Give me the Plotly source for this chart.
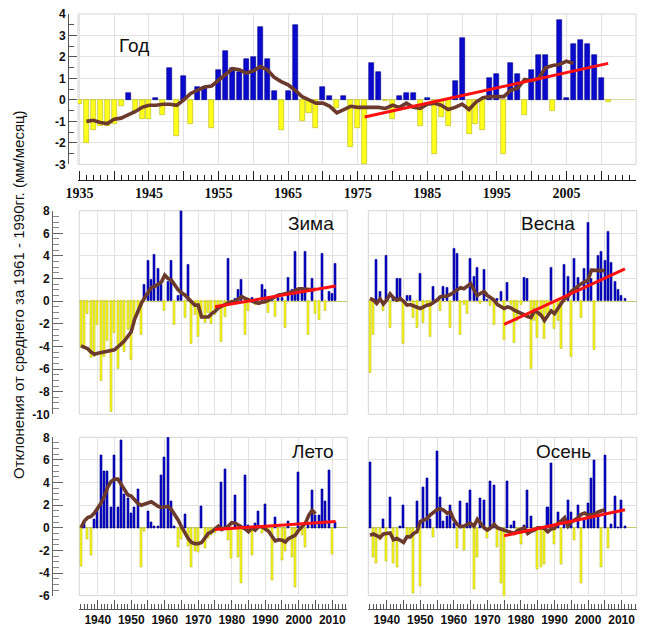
import plotly.graph_objects as go

# ---------------- data ----------------
years = list(range(1935, 2012))

annual = [-0.2, -2.0, -1.4, -1.2, -1.2, -1.1, -0.3, 0.3, -0.5, -0.9,
          -0.9, 0.1, -0.7, 1.5, -1.7, 1.1, -1.1, 0.6, 0.6, -1.3,
          1.4, 2.3, 1.5, 1.3, 1.9, 2.0, 3.4, 1.9, 0.4, -1.4,
          0.4, 3.5, -1.0, -0.6, -1.3, 0.6, 0.2, -0.4, 0.2, -2.2,
          -1.3, -3.0, 1.7, 1.3, -0.05, -0.9, 0.2, 0.3, 0.3, -1.2,
          0.1, -2.5, -0.8, -1.2, 0.9, 2.9, -1.6, -1.1, -1.4, 1.0,
          1.2, -2.5, 1.7, 1.2, -0.7, 1.4, 2.1, 2.1, -0.5, 3.7,
          0.1, 2.6, 2.8, 2.6, 2.1, 1.0, -0.1]

winter = [-4.05, -4.2, -1.1, -5.0, -4.9, -2.1, -7.0, -4.9, -3.5, -9.8,
          -2.8, -6.0, -4.0, -4.5, -2.5, -5.2, -2.0, -1.1, -3.0,
          1.5, 3.6, 1.9, 4.1, 2.9, 1.5, -0.85, 1.7, 3.6, -2.1, 0.5, 8.5, -1.5, 3.2, -3.75,
          -1.2, -3.1, -1.5, -1.9, -1.0,
          -2.0, -1.2, -0.5,
          -3.6, -1.4, 3.8, -0.3, 0.2, 1.0, 1.9, -3.0, -0.8, 0.3,
          -0.3, 0.1, 1.5, 1.0, -1.0, 0.2, -1.4, 0.3, 0.3, -2.3,
          2.1, 1.0, 4.4, 1.0, 1.1, 4.4, -3.0, 2.0, -1.1, -1.6,
          4.2, -0.8, 0.8, 0.7, 3.3]

spring = [-6.3, -3.0, 3.7, 0.8, -0.8, 4.0, -2.3, 0.3, 2.0, 2.0,
          -3.8, 0.45, 0.45, -1.5, -2.3, 2.45, -1.9, -0.3, -3.1, 1.3,
          0.1, -0.8, 1.3, 1.2, -2.3, 4.6, 4.2, -3.0, -0.3, -1.1,
          3.8, 2.2, 3.0, -0.2, 2.8, 0.1, -0.4, -2.1, 0.2, 0.8,
          -3.4, 1.6, -0.3, -3.7, -1.7, -0.3, 2.1, 2.0, -6.0, -1.7,
          -3.2, -1.2, -3.3, -1.1, 3.0, -2.4, -1.7, -4.2, 3.2, 2.2,
          -4.9,
          3.8, 2.1, -1.5, 2.9, 6.9, 2.0, -4.3, 4.0, 4.4, 3.6, 6.1, 3.4, 1.7, 1.0, 0.5, 0.25]

summer = [-3.4, 0.45, -1.0, -2.4, 0.75, 1.6, 6.4, 5.0, 5.0, 1.8,
          6.4, 1.8, 7.7, 3.0, 2.65, 1.3, 1.8, 3.4, -3.5, -0.3,
          1.5, 0.45, 0.15, 0.1, 4.6, 6.2, 8.0, 2.3, 0.1, -1.7,
          -1.0, 1.2, -1.6, -3.5, -2.1, -2.2, 1.9,
          -1.8, -0.95, -0.65, -0.5, 0.1, 4.0, 5.2, -1.1, -2.7, 2.9,
          -2.6, -4.9, 4.6, 0.2, -2.4, 0.4, 1.5, -0.5, 2.1, -0.35,
          -4.6, 0.9, -0.8, -2.9, -2.1, 0.6, -2.6, -5.3, 4.9, -0.65,
          -1.7, 0.4, 3.3, 1.1, 1.1, 3.4, 2.3, 5.1, -2.3, 0.45]

autumn = [5.8, -2.6, -3.1, -1.1, 0.75, -3.0, 2.7, -3.1, -3.5, 0.1,
          2.0, -0.65, -0.8, -5.75, 2.3, -5.2, 3.6, 4.4, 0.75, -0.8,
          6.8, 2.7, 0.55, 1.0, 2.0, 0.4, -1.8, 2.3, -2.0, 2.15,
          3.3, -5.4, -2.6, 2.6, 2.45, -0.95, 4.1, 3.8, -1.7, -4.9,
          -6.8, 4.1, 0.25, 0.55, -0.5, -1.5, 0.2, 3.3, 1.0, -0.35,
          -3.7, -3.5, -3.2, 1.8, 5.7, -1.5, 1.4, -3.2, 0.85, 2.45,
          1.4, -1.1, 2.0, -4.9, 0.75, 2.15, 4.4, 6.0, 1.0, -3.5,
          6.4, -1.8, 0.3, 2.8, 0.05, 2.4, 0.1]

# moving averages (brown lines)
ma_annual_start = 1936
ma_annual = [-1.0, -0.95, -1.05, -1.1, -0.9, -0.85, -0.7, -0.55, -0.35, -0.25,
             -0.25, -0.2, -0.2, -0.25, 0.0, 0.3, 0.45, 0.6, 0.65, 0.9,
             1.15, 1.45, 1.4, 1.25, 1.35, 1.55, 1.4, 1.05, 0.85, 0.7,
             0.45, 0.15, 0.0, -0.15, -0.15, -0.3, -0.6, -0.45, -0.3, -0.35,
             -0.35, -0.35, -0.35, -0.4, -0.25, -0.35, -0.15, -0.35, -0.4, -0.2,
             -0.15, -0.25, -0.45, -0.35, -0.2, -0.45, -0.1, 0.1, 0.15, 0.15,
             0.15, 0.45, 0.55, 0.95, 0.9, 1.0, 1.5, 1.6, 1.65, 1.8, 1.7]

ma_season_start = 1935
ma_winter = [-3.95, -4.1, -4.2, -4.5, -4.7, -4.6, -4.55, -4.5, -4.45, -4.4,
             -4.3, -4.05, -3.8, -3.5, -3.1, -2.7, -1.6, -0.8, -0.2, 0.3,
             0.8, 1.2, 1.3, 1.5, 1.7, 2.3, 2.0, 1.85, 1.4, 1.0,
             0.75, 0.55, 0.25, 0.0, -0.35, -0.35, -1.4, -1.4, -1.4, -1.1,
             -0.9, -0.6, -0.45, -0.25, -0.15, -0.05, 0.0, 0.2, 0.4, 0.25,
             0.1, 0.0, -0.1, -0.2, -0.1, -0.05, 0.1, 0.25, 0.4, 0.55,
             0.6, 0.7, 0.75, 0.8, 0.95, 1.1, 1.1, 1.05, 1.0, 1.0, 1.05]

ma_spring = [0.25, 0.1, -0.2, 0.2, -0.25, 0.1, 0.65, 0.3, 0.1, 0.25,
             0.0, -0.35, -0.3, -0.4, -0.55, -0.65, -0.5, -0.35, -0.3, -0.1,
             0.1, 0.4, 0.4, 0.45, 0.6, 0.8, 1.0, 1.2, 1.1, 1.3,
             1.55, 1.0, 0.5, 0.7, 0.85, 0.5, 0.3, 0.1, -0.3, -0.45,
             -0.65, -0.5, -0.6, -0.8, -0.95, -1.1, -1.25, -1.35, -1.45, -0.85,
             -1.0, -1.25, -1.7, -1.25, -0.85, -1.1, -0.6, -0.2, 0.2, 0.4,
             0.85, 1.1, 1.3, 1.55, 1.7, 1.85, 2.75, 2.75, 2.75, 2.75, 2.7]

ma_summer = [0.0, 0.6, 0.9, 1.0, 1.3, 1.7, 2.2, 2.8, 3.6, 4.1,
             4.3, 4.3, 3.8, 3.3, 2.9, 2.8, 2.5, 2.15, 2.0, 2.1,
             2.2, 2.3, 2.1, 1.9, 1.8, 1.85, 1.9, 1.6, 1.2, 0.7,
             0.1, -0.5, -0.95, -1.3, -1.4, -1.4, -1.3, -0.9, -0.5, -0.35,
             -0.1, 0.15, -0.15, 0.0, 0.15, 0.45, 0.4, 0.25, 0.1, -0.1,
             -0.35, 0.0, -0.2, 0.1, 0.1, -0.15, -0.3, -0.75, -1.15, -1.05,
             -1.1, -1.25, -0.95, -0.8, -0.65, -0.2, 0.1, 0.4, 1.1, 1.55, 1.25]

ma_autumn = [-0.65, -0.55, -0.7, -0.85, -0.55, -0.5, -0.45, -1.05, -0.95, -1.1,
             -1.3, -0.8, -0.8, -0.5, -0.35, 0.55, 0.7, 0.8, 1.15, 1.4,
             1.6, 1.7, 1.55, 1.3, 1.4, 0.7, 0.3, 0.1, 0.15, 0.3,
             0.4, 0.15, 0.75, 0.4, 0.0, -0.2, 0.0, 0.3, 0.0, -0.1,
             -0.2, -0.3, -0.35, -0.5, -0.25, -0.1, 0.0, -0.5, -0.3, -0.2,
             0.0, 0.0, -0.05, -0.35, -0.1, -0.05, 0.4, 0.6, 0.9, 0.15,
             0.5, 0.7, 0.9, 1.2, 1.3, 1.1, 1.15, 1.2, 1.4, 1.5, 1.6]

# linear trends (red lines)
trend_years_annual = [1976, 2011]
trend_annual = [-0.8, 1.7]
trend_years_season = [1975, 2011]
trend_winter = [-0.5, 1.35]
trend_spring = [-2.05, 2.85]
trend_summer = [-0.15, 0.55]
trend_autumn = [-0.7, 1.6]

# tick labels
top_x_ticks = list(range(1935, 2016, 5))
top_x_text = [str(v) if (v - 1935) % 10 == 0 else "" for v in top_x_ticks]
season_x_ticks = list(range(1940, 2011, 5))
season_x_text = [str(v) if v % 10 == 0 else "" for v in season_x_ticks]
top_y_ticks = list(range(-3, 5))
top_y_text = [str(v) for v in top_y_ticks]
mid_y_ticks = list(range(-10, 9, 2))
mid_y_text = [str(v) for v in mid_y_ticks]
bot_y_ticks = list(range(-6, 9, 2))
bot_y_text = [str(v) for v in bot_y_ticks]

titles = ["Год", "Зима", "Весна", "Лето", "Осень"]
ytitle = "Отклонения от среднего за 1961 - 1990гг. (мм/месяц)"

# ---------------- styling ----------------
W, H = 649, 627
BLUE = "#0a0acd"
BLUE_EDGE = "#00008b"
YELLOW = "#ffff1a"
YELLOW_EDGE = "#b5b520"
BROWN = "#6b3a2c"
RED = "#ff1010"
GRID = "#e2e2e2"
FRAME = "#d4d4d4"


def px_x(p):
    return p / W


def px_y(p):
    return 1 - p / H


fig = go.Figure()


def add_panel(idx, vals, ma_start, ma_vals, tr_years, tr_vals, bar_width):
    xa = "x" if idx == 1 else f"x{idx}"
    ya = "y" if idx == 1 else f"y{idx}"
    colors = [BLUE if v >= 0 else YELLOW for v in vals]
    edges = [BLUE_EDGE if v >= 0 else YELLOW_EDGE for v in vals]
    fig.add_trace(go.Bar(x=years, y=vals, width=bar_width, xaxis=xa, yaxis=ya,
                         marker=dict(color=colors, line=dict(color=edges, width=0.6)),
                         cliponaxis=False, showlegend=False, hoverinfo="skip"))
    ma_years = list(range(ma_start, ma_start + len(ma_vals)))
    fig.add_trace(go.Scatter(x=ma_years, y=ma_vals, mode="lines", xaxis=xa, yaxis=ya,
                             line=dict(color=BROWN, width=3.6), showlegend=False,
                             hoverinfo="skip"))
    fig.add_trace(go.Scatter(x=tr_years, y=tr_vals, mode="lines", xaxis=xa, yaxis=ya,
                             line=dict(color=RED, width=3), showlegend=False,
                             hoverinfo="skip"))


add_panel(1, annual, ma_annual_start, ma_annual, trend_years_annual, trend_annual, 0.72)
add_panel(2, winter, ma_season_start, ma_winter, trend_years_season, trend_winter, 0.6)
add_panel(3, spring, ma_season_start, ma_spring, trend_years_season, trend_spring, 0.6)
add_panel(4, summer, ma_season_start, ma_summer, trend_years_season, trend_summer, 0.6)
add_panel(5, autumn, ma_season_start, ma_autumn, trend_years_season, trend_autumn, 0.6)

tick_font_sans = dict(family="Liberation Sans, Arial, sans-serif", size=12, color="#111")
tick_font_serif = dict(family="Liberation Serif, Times New Roman, serif", size=14, color="#111")

# panel geometry (pixels)
top_x = (78, 636)
top_y = (14, 164.3)
left_x = (79.3, 347.3)
right_x = (368.3, 636.7)
mid_y = (210.7, 414.3)
bot_y = (437.3, 595.7)

layout = dict(
    template="none",
    width=W, height=H, margin=dict(l=0, r=0, t=0, b=0, pad=0, autoexpand=False),
    paper_bgcolor="white", plot_bgcolor="white", bargap=0, showlegend=False,
)

# top panel
layout["xaxis"] = dict(domain=[px_x(top_x[0]), px_x(top_x[1])], range=[1934.8, 2015],
                       anchor="free", position=px_y(180), automargin=False,
                       tickmode="array", tickvals=top_x_ticks, ticktext=top_x_text,
                       ticks="inside", ticklen=9, tickcolor="#222", tickwidth=1,
                       showline=True, linecolor="#222", linewidth=1,
                       minor=dict(dtick=1, tick0=1935, ticks="inside", ticklen=5,
                                  tickcolor="#222", showgrid=False),
                       showgrid=True, gridcolor=GRID, zeroline=False,
                       tickfont=dict(tick_font_serif, weight="bold"))
layout["yaxis"] = dict(domain=[px_y(top_y[1]), px_y(top_y[0])], range=[-3, 4],
                       anchor="free", position=px_x(68), automargin=False,
                       tickmode="array", tickvals=top_y_ticks, ticktext=top_y_text,
                       ticks="inside", ticklen=8, tickcolor="#555",
                       showline=True, linecolor="#555",
                       minor=dict(dtick=0.5, tick0=0, ticks="inside", ticklen=5,
                                  tickcolor="#555", showgrid=False),
                       showgrid=True, gridcolor=GRID, zeroline=True,
                       zerolinecolor="#d8d8a0", zerolinewidth=1,
                       tickfont=dict(tick_font_sans, size=12, weight="bold"))


def season_x(dom, bottom, anchor_y):
    d = dict(domain=[px_x(dom[0]), px_x(dom[1])], range=[1934.5, 2014.5],
             tickmode="array", tickvals=season_x_ticks, ticktext=season_x_text,
             showgrid=True, gridcolor=GRID, zeroline=False, automargin=False)
    if bottom:
        d.update(anchor="free", position=px_y(609),
                 ticks="inside", ticklen=9, tickcolor="#555",
                 showline=True, linecolor="#555",
                 minor=dict(dtick=1, tick0=1935, ticks="inside", ticklen=5,
                            tickcolor="#555", showgrid=False),
                 tickfont=dict(tick_font_sans, size=12, weight="bold"))
    else:
        d.update(anchor=anchor_y, showticklabels=False, ticks="", showline=False)
    return d


def season_y(dom, rng, tv, tt, ruler, anchor_x):
    d = dict(domain=[px_y(dom[1]), px_y(dom[0])], range=rng,
             tickmode="array", tickvals=tv, ticktext=tt, automargin=False,
             showgrid=True, gridcolor=GRID, zeroline=True,
             zerolinecolor="#c8c870", zerolinewidth=1)
    if ruler:
        d.update(anchor="free", position=px_x(52),
                 ticks="inside", ticklen=10, tickcolor="#666",
                 showline=True, linecolor="#666",
                 minor=dict(dtick=0.5, tick0=0, ticks="inside", ticklen=6,
                            tickcolor="#888", showgrid=False),
                 tickfont=dict(tick_font_sans, size=12, weight="bold"))
    else:
        d.update(anchor=anchor_x, showticklabels=False, ticks="", showline=False)
    return d


layout["xaxis2"] = season_x(left_x, False, "y2")
layout["yaxis2"] = season_y(mid_y, [-10, 8], mid_y_ticks, mid_y_text, True, "x2")
layout["xaxis3"] = season_x(right_x, False, "y3")
layout["yaxis3"] = season_y(mid_y, [-10, 8], mid_y_ticks, mid_y_text, False, "x3")
layout["xaxis4"] = season_x(left_x, True, "y4")
layout["yaxis4"] = season_y(bot_y, [-6, 8], bot_y_ticks, bot_y_text, True, "x4")
layout["xaxis5"] = season_x(right_x, True, "y5")
layout["yaxis5"] = season_y(bot_y, [-6, 8], bot_y_ticks, bot_y_text, False, "x5")

fig.update_layout(**layout)

# frames
for i in range(1, 6):
    xr = "x domain" if i == 1 else f"x{i} domain"
    yr = "y domain" if i == 1 else f"y{i} domain"
    fig.add_shape(type="rect", xref=xr, yref=yr, x0=0, x1=1, y0=0, y1=1,
                  line=dict(color=FRAME, width=1), layer="below")

# panel titles
title_pos = [(134, 45), (311, 224), (548, 224), (312, 452), (563, 452)]
for t, (px, py) in zip(titles, title_pos):
    fig.add_annotation(text=t, x=px_x(px), y=px_y(py), xref="paper", yref="paper",
                       showarrow=False, xanchor="center", yanchor="middle",
                       font=dict(family="Liberation Sans, Arial, sans-serif",
                                 size=19, color="#111"))

# y-axis title
fig.add_annotation(text=ytitle, x=px_x(18), y=px_y(295), xref="paper", yref="paper",
                   showarrow=False, textangle=-90, xanchor="center", yanchor="middle",
                   font=dict(family="Liberation Sans, Arial, sans-serif", size=15,
                             color="#111"))

fig.write_html("out.html", config={"displayModeBar": False},
               post_script="document.body.style.margin='0';"
                           "document.body.style.padding='0';"
                           "document.documentElement.style.overflow='hidden';")
